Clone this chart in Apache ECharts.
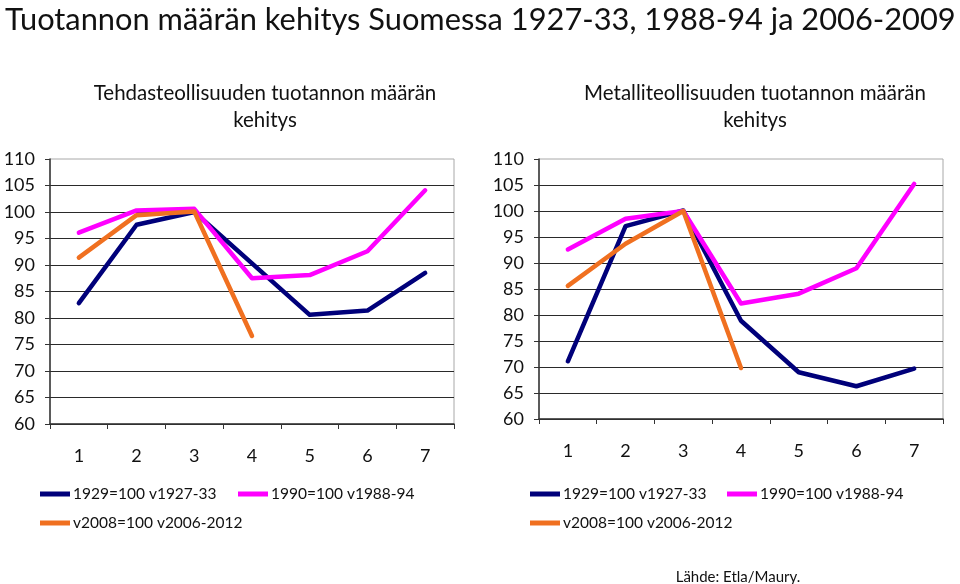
<!DOCTYPE html>
<html><head><meta charset="utf-8">
<script src="https://cdn.jsdelivr.net/npm/echarts@6/dist/echarts.min.js"></script>
<style>html,body{margin:0;padding:0;background:#fff}#c{width:960px;height:584px}</style>
</head><body><div id="c"></div>
<script>
const categories = ['1','2','3','4','5','6','7'];
const seriesNames = ['1929=100 v1927-33', '1990=100 v1988-94', 'v2008=100 v2006-2012'];
// Tehdasteollisuus (left)
const leftNavy    = [82.8, 97.6, 100, 90.3, 80.6, 81.4, 88.5];
const leftMagenta = [96.1, 100.3, 100.6, 87.5, 88.1, 92.6, 104.1];
const leftOrange  = [91.4, 99.4, 100.1, 76.6];
// Metalliteollisuus (right)
const rightNavy    = [71.1, 97.1, 100.1, 78.9, 69.0, 66.3, 69.7];
const rightMagenta = [92.6, 98.5, 100, 82.2, 84.1, 89.0, 105.2];
const rightOrange  = [85.6, 93.7, 100, 69.8];
const yTicks = {min: 60, max: 110, interval: 5};

const colors = ['#00007A', '#FF00FF', '#F07020'];
const FONT = 'Lato';
const chart = echarts.init(document.getElementById('c'));

function xAxis(gi){
  return {type:'category', gridIndex:gi, data:categories, boundaryGap:true,
    axisLine:{lineStyle:{color:'#333', width:1.5}},
    axisTick:{show:true, length:5, lineStyle:{color:'#333'}},
    axisLabel:{color:'#111', fontSize:18, fontFamily:FONT, margin:23}};
}
function yAxis(gi){
  return {type:'value', gridIndex:gi, min:yTicks.min, max:yTicks.max, interval:yTicks.interval,
    axisLine:{show:true, lineStyle:{color:'#333', width:1.5}},
    axisTick:{show:true, length:5, lineStyle:{color:'#333'}},
    splitLine:{show:true, showMaxLine:false, lineStyle:{color:'#2a2a2a', width:1}},
    axisLabel:{color:'#111', fontSize:18, fontFamily:FONT, margin:15}};
}
function line(name, data, gi, ci){
  return {type:'line', name:name, xAxisIndex:gi, yAxisIndex:gi, data:data,
    showSymbol:false, symbol:'none', color:colors[ci],
    lineStyle:{width:4.5, color:colors[ci], cap:'round', join:'round'}, animation:false, z:2+ci};
}
function legend(name, left, top){
  return {data:[name], left:left, top:top, icon:'rect', itemWidth:30, itemHeight:5,
    itemGap:0, padding:0, textStyle:{fontSize:15.5, fontFamily:FONT, color:'#111', padding:[0,0,0,-2]}};
}

chart.setOption({
  animation:false,
  title:[
    {text:'Tuotannon määrän kehitys Suomessa 1927-33, 1988-94 ja 2006-2009', left:0, top:0,
     textStyle:{fontSize:30.8, fontWeight:'normal', fontFamily:FONT, color:'#111'}},
    {text:'Tehdasteollisuuden tuotannon määrän\nkehitys', left:260, top:75, textAlign:'center',
     textStyle:{fontSize:20.5, fontWeight:'normal', fontFamily:FONT, color:'#111', lineHeight:27, align:'center'}},
    {text:'Metalliteollisuuden tuotannon määrän\nkehitys', left:750, top:75, textAlign:'center',
     textStyle:{fontSize:20.5, fontWeight:'normal', fontFamily:FONT, color:'#111', lineHeight:27, align:'center'}},
    {text:'Lähde: Etla/Maury.', left:733, top:565, textAlign:'center',
     textStyle:{fontSize:15, fontWeight:'normal', fontFamily:FONT, color:'#111'}}
  ],
  grid:[
    {left:50, right:506, top:159, bottom:160, show:true, borderColor:'#a8a8a8', borderWidth:1},
    {left:539, right:17, top:159, bottom:165, show:true, borderColor:'#a8a8a8', borderWidth:1}
  ],
  xAxis:[xAxis(0), xAxis(1)],
  yAxis:[yAxis(0), yAxis(1)],
  legend:[
    legend(seriesNames[0], 40, 486), legend(seriesNames[1], 238, 486), legend(seriesNames[2], 40, 515),
    legend(seriesNames[0], 530, 486), legend(seriesNames[1], 727, 486), legend(seriesNames[2], 530, 515)
  ],
  series:[
    line(seriesNames[0], leftNavy, 0, 0),
    line(seriesNames[1], leftMagenta, 0, 1),
    line(seriesNames[2], leftOrange, 0, 2),
    line(seriesNames[0], rightNavy, 1, 0),
    line(seriesNames[1], rightMagenta, 1, 1),
    line(seriesNames[2], rightOrange, 1, 2)
  ]
});
</script></body></html>
